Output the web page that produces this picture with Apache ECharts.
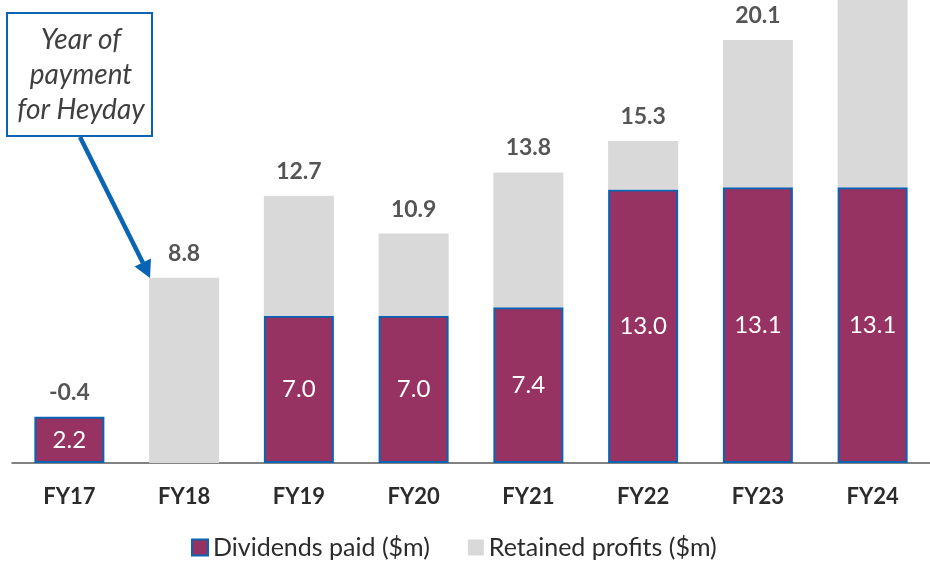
<!DOCTYPE html>
<html>
<head>
<meta charset="utf-8">
<script src="https://cdn.jsdelivr.net/npm/echarts@6/dist/echarts.min.js"></script>
<style>
  html, body { margin: 0; padding: 0; background: #fff; }
  #chart { width: 930px; height: 566px; }
</style>
</head>
<body>
<div id="chart"></div>
<script>
const years = ["FY17", "FY18", "FY19", "FY20", "FY21", "FY22", "FY23", "FY24"];
const dividends = [2.2, 0, 7.0, 7.0, 7.4, 13.0, 13.1, 13.1];
const totals = [-0.4, 8.8, 12.7, 10.9, 13.8, 15.3, 20.1, 22.5];
// retained = total profit less dividends paid
const retained = totals.map((t, i) => +(t - dividends[i]).toFixed(1));

const purple = "#973363";
const grey = "#d9d9d9";
const blue = "#0a64b4";
const textCol = "#2b2b2b";
const font = "Lato";

var chart = echarts.init(document.getElementById("chart"));

chart.setOption({
  animation: false,
  textStyle: { fontFamily: font },
  grid: { left: 12, width: 925, top: 0, bottom: 103 },
  legend: {
    data: [
      { name: "Dividends paid ($m)", itemStyle: { color: purple, borderColor: blue, borderWidth: 2 } },
      { name: "Retained profits ($m)", itemStyle: { color: grey, borderWidth: 0 } }
    ],
    bottom: 1,
    left: 186,
    icon: "rect",
    itemWidth: 16,
    itemHeight: 16,
    itemGap: 38,
    textStyle: { fontFamily: font, fontSize: 25, color: textCol }
  },
  xAxis: {
    type: "category",
    data: years,
    axisLine: { lineStyle: { color: "#595959", width: 1.5 } },
    axisTick: { show: false },
    axisLabel: { fontSize: 22, fontWeight: "bold", color: textCol, margin: 23 }
  },
  yAxis: {
    type: "value",
    min: 0,
    max: 22,
    show: false,
    splitLine: { show: false }
  },
  series: [
    {
      name: "Dividends paid ($m)",
      type: "bar",
      stack: "p",
      barWidth: 70,
      data: dividends.map(v => (v > 0 ? v : null)),
      itemStyle: { color: purple, borderColor: blue, borderWidth: 2 },
      label: {
        show: true,
        position: "inside",
        color: "#fff",
        fontSize: 24,
        formatter: p => p.value.toFixed(1)
      }
    },
    {
      name: "Retained profits ($m)",
      type: "bar",
      stack: "p",
      barWidth: 70,
      data: retained,
      itemStyle: { color: grey }
    },
    {
      name: "Total",
      type: "scatter",
      symbolSize: 0,
      data: totals.map((t, i) => Math.max(t, dividends[i])),
      label: {
        show: true,
        position: "top",
        distance: 13,
        fontSize: 23,
        fontWeight: "bold",
        color: textCol,
        formatter: p => totals[p.dataIndex].toFixed(1)
      }
    }
  ],
  graphic: [
    {
      type: "rect",
      shape: { x: 7, y: 13, width: 145, height: 123 },
      style: { fill: "#fff", stroke: blue, lineWidth: 2 },
      z: 10
    },
    {
      type: "text",
      x: 81,
      y: 75,
      style: {
        text: "Year of\npayment\nfor Heyday",
        fill: "#404040",
        font: "italic 28px Lato",
        align: "center",
        verticalAlign: "middle",
        lineHeight: 35
      },
      z: 11
    },
    {
      type: "polyline",
      shape: { points: [[80, 137], [143, 263]] },
      style: { stroke: blue, lineWidth: 4.5 },
      z: 10
    },
    {
      type: "polygon",
      shape: { points: [[150, 278], [134.5, 266.5], [151, 258.5]] },
      style: { fill: blue },
      z: 10
    }
  ]
});
</script>
</body>
</html>
